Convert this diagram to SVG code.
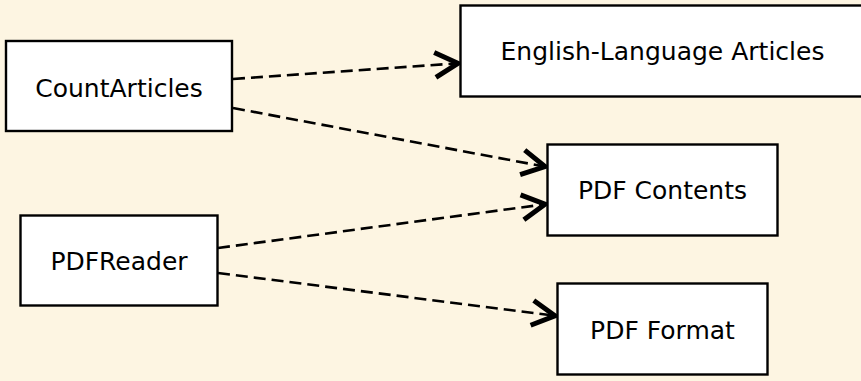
<svg xmlns="http://www.w3.org/2000/svg" width="861" height="381" viewBox="0 0 861 381">
  <defs>
    <style>
      .node rect { fill: #ffffff; stroke: #000000; stroke-width: 2.4; }
      .node text { font-family: "DejaVu Sans", Verdana, sans-serif; font-size: 25px; fill: #000000; text-anchor: middle; }
      .edge { fill: none; stroke: #000000; stroke-width: 2.6; stroke-dasharray: 12 6; marker-end: url(#open-arrow); }
    </style>
    <marker id="open-arrow" markerUnits="userSpaceOnUse" viewBox="-32 -18 36 36" markerWidth="36" markerHeight="36" refX="0" refY="0" orient="auto">
      <path d="M-25,-12.5 L-2,0 L-25,12.5" fill="none" stroke="#000000" stroke-width="5" stroke-linejoin="miter" stroke-miterlimit="6" stroke-linecap="butt"/>
    </marker>
  </defs>

  <rect x="0" y="0" width="861" height="381" fill="#fdf5e2"/>

  <g id="connectors">
    <path class="edge" d="M233,79 L460,63.2"/>
    <path class="edge" d="M233,108 L547,167"/>
    <path class="edge" d="M218,248 L547,204"/>
    <path class="edge" d="M218,273 L557,316"/>
  </g>

  <g id="count-articles" class="node">
    <rect x="6" y="41" width="226" height="90"/>
    <text x="119" y="96.5">CountArticles</text>
  </g>

  <g id="pdf-reader" class="node">
    <rect x="20.5" y="215.5" width="197" height="90"/>
    <text x="119" y="270">PDFReader</text>
  </g>

  <g id="english-articles" class="node">
    <rect x="460.5" y="5.5" width="404" height="91"/>
    <text x="662.5" y="60">English-Language Articles</text>
  </g>

  <g id="pdf-contents" class="node">
    <rect x="547.5" y="144.5" width="230" height="91"/>
    <text x="662.5" y="199">PDF Contents</text>
  </g>

  <g id="pdf-format" class="node">
    <rect x="557.5" y="283.5" width="210" height="91"/>
    <text x="662.5" y="339">PDF Format</text>
  </g>
</svg>
